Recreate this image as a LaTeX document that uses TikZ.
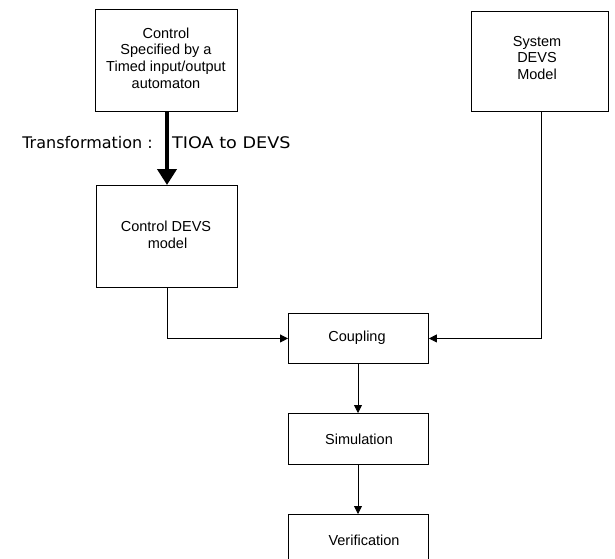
\documentclass[tikz,border=0pt]{standalone}
\usepackage{fontspec}
\setmainfont{Liberation Sans}
\newfontfamily\comicfont{DejaVu Sans}
\usetikzlibrary{arrows.meta}
\begin{document}
\begin{tikzpicture}[x=1pt,y=-1pt,
  box/.style={draw,line width=0.9pt,inner sep=0pt,anchor=north west},
  lbl/.style={align=center,font=\fontsize{14.5}{16.7}\selectfont,inner sep=0pt},
  thin/.style={line width=0.8pt,-{Triangle[length=8pt,width=8pt]}},
  thick/.style={line width=4pt,-{Triangle[length=16pt,width=19pt]}}]
\useasboundingbox (0,0) rectangle (615,558);
\begin{scope}
\clip (0,0) rectangle (615,558);
% boxes
\node[box,minimum width=142pt,minimum height=102pt] (ctrl) at (95,9) {};
\node[box,minimum width=141pt,minimum height=102pt] (cdevs) at (96,185) {};
\node[box,minimum width=137pt,minimum height=100pt] (sys) at (471,11) {};
\node[box,minimum width=140pt,minimum height=50pt] (coup) at (288,313) {};
\node[box,minimum width=140pt,minimum height=51pt] (sim) at (288,413) {};
\node[box,minimum width=140pt,minimum height=60pt] (ver) at (288,514) {};
\end{scope}
% labels
\node[lbl] (ctrlt) at (166,58) {Control\\Specified by a\\Timed input/output\\automaton};
\node[lbl] (cdevst) at (166,235) {Control DEVS\\\hspace*{3pt}model};
\node[lbl] (syst) at (537,58) {System\\DEVS\\Model};
\node[lbl] (coupt) at (357,338) {Coupling};
\node[lbl] (simt) at (359,439) {Simulation};
\node[lbl] (vert) at (364,540) {Verification};
% transformation
\node[font=\comicfont\fontsize{16}{18}\selectfont,inner sep=0pt,anchor=east] (tr1) at (153,143) {Transformation :};
\node[font=\comicfont\fontsize{16}{18}\selectfont,inner sep=0pt,anchor=west,xscale=1.1] (tr2) at (172,143) {TIOA to DEVS};
% connectors
\draw[thick] (ctrl.south -| 167,0) -- (cdevs.north -| 167,0);
\draw[thin] (cdevs.south -| 167,0) |- (coup.west);
\draw[thin] (sys.south -| 541,0) |- (coup.east);
\draw[thin] (coup.south -| 358,0) -- (sim.north -| 358,0);
\draw[thin] (sim.south -| 358,0) -- (ver.north -| 358,0);
\end{tikzpicture}
\end{document}
